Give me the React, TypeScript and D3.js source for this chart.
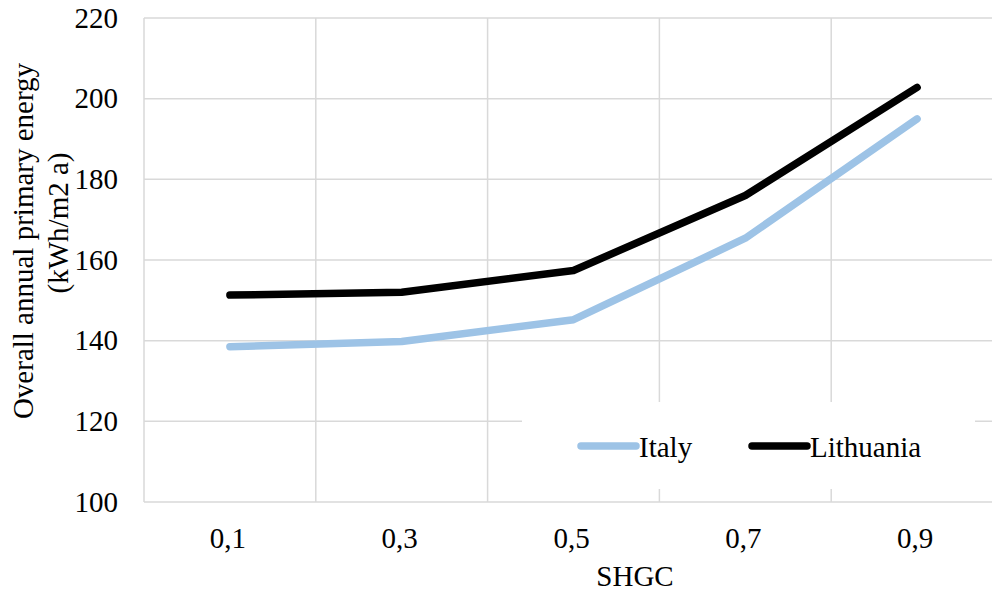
import React from "react";
import * as d3 from "d3";

const categories = ["0,1", "0,3", "0,5", "0,7", "0,9"];
const italy = [138.5, 139.8, 145.2, 165.4, 195.0];
const lithuania = [151.3, 152.0, 157.4, 176.0, 202.8];
const yTicks = [100, 120, 140, 160, 180, 200, 220];
const seriesNames = ["Italy", "Lithuania"];
const seriesColors = ["#9DC3E6", "#000000"];
const yTitleLines = ["Overall annual primary energy", "(kWh/m2 a)"];
const xTitle = "SHGC";

const W = 992, H = 604;
const left = 144, right = 1003, top = 18, bottom = 502;
const FS = 29;
const ts = { fontFamily: "Times New Roman" };

export default function App() {
  const x = d3.scaleBand<string>().domain(categories).range([left, right]);
  const y = d3.scaleLinear().domain([100, 220]).range([bottom, top]);
  const line = d3.line<number>()
    .x((_, i) => (x(categories[i]) as number) + x.bandwidth() / 2)
    .y((d) => y(d));
  const series = [italy, lithuania];
  const grid = "#D9D9D9";
  return (
    <svg width={W} height={H} style={{ position: "absolute", left: 0, top: 0, background: "#fff" }}>
      {yTicks.map((t) => (
        <line key={"h" + t} x1={left} x2={right} y1={y(t)} y2={y(t)} stroke={grid} strokeWidth={1.5} />
      ))}
      {categories.map((c) => (
        <line key={"v" + c} x1={x(c) as number} x2={x(c) as number} y1={top} y2={bottom} stroke={grid} strokeWidth={1.5} />
      ))}
      <line x1={right} x2={right} y1={top} y2={bottom} stroke={grid} strokeWidth={1.5} />
      {yTicks.map((t) => (
        <text key={"yt" + t} x={118} y={y(t) + 9.5} textAnchor="end" fontSize={FS} fill="#000" style={ts}>{t}</text>
      ))}
      {categories.map((c) => (
        <text key={"xt" + c} x={(x(c) as number) + x.bandwidth() / 2 - 2} y={548} textAnchor="middle" fontSize={FS} fill="#000" style={ts}>{c}</text>
      ))}
      <text x={635} y={586} textAnchor="middle" fontSize={FS} fill="#000" style={ts}>{xTitle}</text>
      <g transform={`translate(0, 241) rotate(-90)`}>
        <text x={0} y={33} textAnchor="middle" fontSize={FS} fill="#000" style={ts}>{yTitleLines[0]}</text>
      </g>
      <g transform={`translate(0, 223) rotate(-90)`}>
        <text x={0} y={68} textAnchor="middle" fontSize={FS} fill="#000" style={ts}>{yTitleLines[1]}</text>
      </g>
      {series.map((s, i) => (
        <path key={"s" + i} d={line(s) as string} fill="none" stroke={seriesColors[i]} strokeWidth={7.5} strokeLinecap="round" strokeLinejoin="round" />
      ))}
      <rect x={522} y={402} width={453} height={87} fill="#fff" />
      {seriesNames.map((n, i) => {
        const lx = i === 0 ? 581 : 752;
        return (
          <g key={"lg" + n}>
            <line x1={lx} x2={lx + 55} y1={446} y2={446} stroke={seriesColors[i]} strokeWidth={7.5} strokeLinecap="round" />
            <text x={lx + 58} y={457} fontSize={FS} fill="#000" style={ts}>{n}</text>
          </g>
        );
      })}
    </svg>
  );
}
